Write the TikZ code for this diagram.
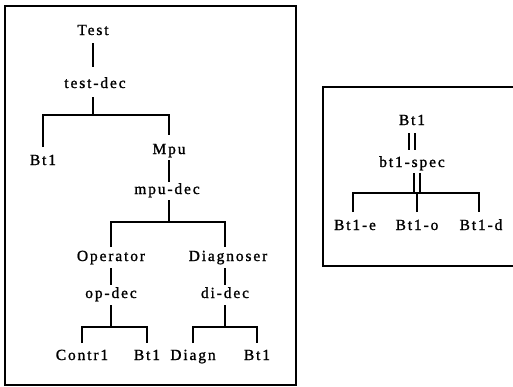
\documentclass[tikz,border=0pt]{standalone}
\usepackage{fontspec}
\setmainfont{Liberation Serif}[LetterSpace=12,FakeBold=1.2]
\begin{document}
\begin{tikzpicture}[x=1pt,y=-1pt,
  lab/.style={anchor=base,inner sep=0pt,font=\fontsize{15.5}{18}\selectfont},
  ln/.style={line width=1.8pt},
  dbl/.style={double,line width=1.7pt,double distance=4pt},
  box/.style={line width=1.6pt}]
\useasboundingbox (0,0) rectangle (513,386);
% frames
\draw[box] (5,6) rectangle (296,385);
\draw[box] (516,87) -- (323,87) -- (323,266) -- (516,266);
% left tree nodes
\node[lab] (Test)      at (93,35)   {Test};
\node[lab] (testdec)   at (95,88)   {test-dec};
\node[lab] (BtA)       at (43,165)  {Bt1};
\node[lab] (Mpu)       at (169,154) {Mpu};
\node[lab] (mpudec)    at (167,194) {mpu-dec};
\node[lab] (Operator)  at (111,261) {Operator};
\node[lab] (opdec)     at (111,298) {op-dec};
\node[lab] (Diagnoser) at (228,261) {Diagnoser};
\node[lab] (didec)     at (225,298) {di-dec};
\node[lab] (Contr1)    at (82,360)  {Contr1};
\node[lab] (BtB)       at (147,360) {Bt1};
\node[lab] (Diagn)     at (193,360) {Diagn};
\node[lab] (BtC)       at (257,360) {Bt1};
% left tree connectors
\draw[ln] ([yshift=-8pt]Test.base) -- ([yshift=21pt]testdec.base -| Test.base);
\coordinate (f1) at ([yshift=-27pt]testdec.base -| Test.base);
\draw[ln] ([yshift=-9pt]testdec.base -| Test.base) -- (f1);
\draw[ln] ([yshift=18pt]BtA.base) |- (f1) -| ([yshift=19pt]Mpu.base);
\draw[ln] ([yshift=-6pt]Mpu.base) -- ([yshift=12pt]mpudec.base -| Mpu.base);
\coordinate (f2) at ([yshift=-28pt]mpudec.base -| Mpu.base);
\draw[ln] ([yshift=-6pt]mpudec.base -| Mpu.base) -- (f2);
\draw[ln] ([yshift=14pt]Operator.base) |- (f2) -| ([yshift=14pt]Diagnoser.base -| didec.base);
\draw[ln] ([yshift=-7pt]Operator.base) -- ([yshift=13pt]opdec.base);
\draw[ln] ([yshift=-7pt]Diagnoser.base -| didec.base) -- ([yshift=13pt]didec.base);
\coordinate (f3) at ([yshift=-29pt]opdec.base);
\draw[ln] ([yshift=-7pt]opdec.base) -- (f3);
\draw[ln] ([yshift=17pt]Contr1.base) |- (f3) -| ([yshift=17pt]BtB.base);
\coordinate (f4) at ([yshift=-29pt]didec.base);
\draw[ln] ([yshift=-7pt]didec.base) -- (f4);
\draw[ln] ([yshift=17pt]Diagn.base) |- (f4) -| ([yshift=17pt]BtC.base);
% right tree nodes
\node[lab] (BtR)  at (412,125) {Bt1};
\node[lab] (spec) at (412,167) {bt1-spec};
\node[lab] (BtE)  at (355,230) {Bt1-e};
\node[lab] (BtO)  at (417,230) {Bt1-o};
\node[lab] (BtD)  at (481,230) {Bt1-d};
% right tree connectors
\coordinate (f5) at ([yshift=-26pt]spec.base -| BtO.base);
\draw[dbl] ([yshift=-8pt]BtR.base -| spec.base) -- ([yshift=17pt]spec.base);
\draw[dbl] ([yshift=-6pt]spec.base -| f5) -- (f5);
\draw[ln] ([yshift=18pt]BtE.base -| 353,0) |- (f5) -| ([yshift=18pt]BtD.base -| 479,0);
\draw[ln] ([yshift=18pt]BtO.base) -- (f5);
\end{tikzpicture}
\end{document}
